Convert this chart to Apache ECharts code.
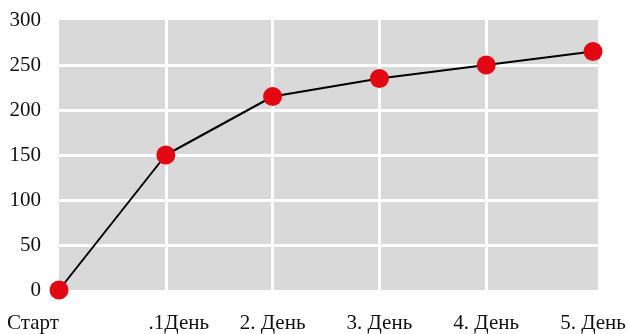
<!DOCTYPE html>
<html>
<head>
<meta charset="utf-8">
<script src="https://cdn.jsdelivr.net/npm/echarts@6/dist/echarts.min.js"></script>
<style>
  html, body { margin: 0; padding: 0; background: #fff; }
  #chart { width: 630px; height: 334px; }
</style>
</head>
<body>
<div id="chart"></div>
<script>
// Progress over days
const days = ['Старт', '.1День', '2. День', '3. День', '4. День', '5. День'];
const values = [0, 150, 215, 235, 250, 265];
const yTicks = { min: 0, max: 300, interval: 50 };

const font = '"Liberation Serif", "DejaVu Serif", serif';
const fs = 21;
const chart = echarts.init(document.getElementById('chart'), null, { renderer: 'canvas' });

const whiteLine = { color: '#fff', width: 3 };

chart.setOption({
  animation: false,
  grid: [
    { left: 59, right: 37, top: 20, bottom: 44, show: false },
    // grey plot background, slightly wider than the data area
    { left: 59, right: 32, top: 20, bottom: 44, show: true, backgroundColor: '#d9d9d9', borderWidth: 0, z: 0 }
  ],
  xAxis: [
    {
      type: 'category',
      gridIndex: 0,
      data: days,
      boundaryGap: false,
      axisLine: { show: false },
      axisTick: { show: false },
      axisLabel: {
        interval: 0,
        margin: 23,
        fontFamily: font,
        fontSize: fs,
        color: '#111',
        alignMinLabel: 'right',
        formatter: function (v, i) { return i === 1 ? '{sh|' + v + '}' : v; },
        rich: { sh: { fontFamily: font, fontSize: fs, color: '#111', padding: [0, 0, 0, 26] } }
      },
      splitLine: { show: true, interval: 0, showMinLine: false, showMaxLine: false, lineStyle: whiteLine }
    },
    { type: 'category', gridIndex: 1, show: false, data: days }
  ],
  yAxis: [
    {
      type: 'value',
      gridIndex: 0,
      min: yTicks.min,
      max: yTicks.max,
      interval: yTicks.interval,
      axisLine: { show: false },
      axisTick: { show: false },
      axisLabel: { margin: 18, fontFamily: font, fontSize: fs, color: '#111' },
      splitLine: { show: false }
    },
    {
      // horizontal white lines run across the full grey background
      type: 'value',
      gridIndex: 1,
      min: yTicks.min,
      max: yTicks.max,
      interval: yTicks.interval,
      axisLine: { show: false },
      axisTick: { show: false },
      axisLabel: { show: false },
      splitLine: { show: true, showMinLine: false, showMaxLine: false, lineStyle: whiteLine }
    }
  ],
  series: [{
    type: 'line',
    xAxisIndex: 0,
    yAxisIndex: 0,
    data: values,
    symbol: 'circle',
    symbolSize: 19,
    lineStyle: { color: '#000', width: 2 },
    itemStyle: { color: '#e30613' },
    z: 5
  }]
});
</script>
</body>
</html>
